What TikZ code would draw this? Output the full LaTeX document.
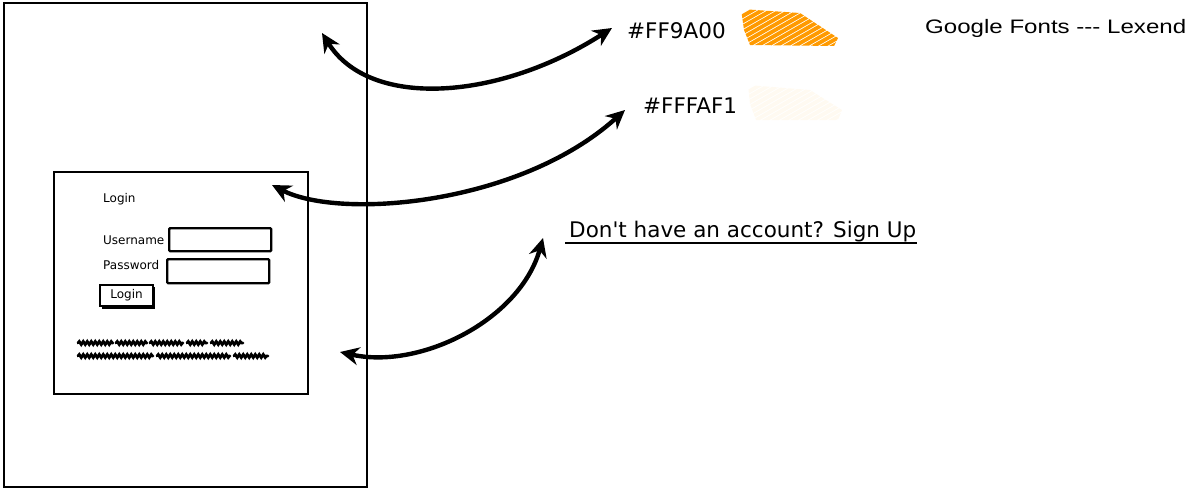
\documentclass[tikz,border=0pt]{standalone}
\usepackage{fontspec}
\setmainfont{DejaVu Sans}[Ligatures=TeXOff]
\newfontfamily\arialf{Liberation Sans}[Ligatures=TeXOff]
\usetikzlibrary{arrows.meta,decorations.pathmorphing}
\definecolor{orangec}{HTML}{FF9A00}
\definecolor{creamc}{HTML}{FFFAF1}
\tikzset{
  frame/.style={draw=black, line width=2pt},
  field/.style={draw=black, line width=2.4pt, rounded corners=1pt},
  lbl/.style={anchor=west, inner sep=0pt, font=\fontsize{12}{14}\selectfont},
  big/.style={anchor=west, inner sep=0pt, font=\fontsize{21.5}{24}\selectfont},
  curvy/.style={line width=4.4pt, {Stealth[length=19pt,width=18pt]}-{Stealth[length=19pt,width=18pt]}},
  squig/.style={line width=2.8pt, line cap=round, decorate, decoration={snake, amplitude=1.5pt, segment length=4pt}},
  scrib/.style={line width=3.8pt, line cap=round},
}
\begin{document}
\begin{tikzpicture}[x=1pt,y=-1pt]
\useasboundingbox (0,0) rectangle (1188,487);
% outer page
\node[frame, minimum width=363pt, minimum height=484pt, anchor=north west, inner sep=0pt] (page) at (3,2) {};
% login card
\node[frame, minimum width=254pt, minimum height=222pt, anchor=north west, inner sep=0pt] (card) at (53,171) {};
\node[lbl] (title) at (103,199) {Login};
\node[lbl] (ulbl) at (103,240) {Username};
\node[field, minimum width=102pt, minimum height=23pt, anchor=north west, inner sep=0pt] (ubox) at (168,227) {};
\node[lbl] (plbl) at (103,265) {Password};
\node[field, minimum width=102pt, minimum height=24pt, anchor=north west, inner sep=0pt] (pbox) at (166,258) {};
\draw[line width=3.4pt] (153,287) -- (153,307.5) -- (102,307.5);
\node[draw=black, line width=2pt, fill=white, minimum width=53pt, minimum height=21pt, anchor=north west, inner sep=0pt, font=\fontsize{12}{14}\selectfont] (btn) at (99,284) {Login};
% squiggle text
\foreach \a/\b in {78/113,116/147,150/183,187/207,211/243}{
  \draw[squig] (\a,343) -- (\b,343);
}
\foreach \a/\b in {78/153,157/230,234/268}{
  \draw[squig] (\a,356) -- (\b,356);
}
% colour labels
\node[big] (c1) at (627,31) {\#FF9A00};
\begin{scope}
  \clip (741,9) -- (800,13) -- (838,38) -- (834,46) -- (750,45) -- (744,30) -- cycle;
  \foreach \i in {0,...,16}{
    \draw[scrib, orangec] ({680+\i*9.5},52) -- ({760+\i*9.5},6);
  }
\end{scope}
\node[big] (c2) at (643,106) {\#FFFAF1};
\begin{scope}
  \clip (748,85) -- (810,90) -- (842,110) -- (838,120) -- (756,120) -- (750,104) -- cycle;
  \foreach \i in {0,...,16}{
    \draw[scrib, creamc] ({687+\i*9.5},127) -- ({767+\i*9.5},81);
  }
\end{scope}
\node[anchor=west, inner sep=0pt] (gf) at (925,28) {\scalebox{1.235}[1]{\arialf\fontsize{19.5}{22}\selectfont Google Fonts --- Lexend}};
\node[big] (su) at (569,232) {Don't have an account? Sign Up};
\draw[line width=2pt] (565,243) -- (917,243);
% arrows
\coordinate (a1s) at (322,33);
\coordinate (a1e) at (612,28);
\coordinate (a2s) at (272,185);
\coordinate (a2e) at (625,110);
\coordinate (a3s) at (340,352);
\coordinate (a3e) at (543,238);
\draw[curvy] (a1s) .. controls (370,110) and (500,100) .. (a1e);
\draw[curvy] (a2s) .. controls (340,220) and (520,205) .. (a2e);
\draw[curvy] (a3s) .. controls (420,370) and (520,320) .. (a3e);
\end{tikzpicture}
\end{document}
